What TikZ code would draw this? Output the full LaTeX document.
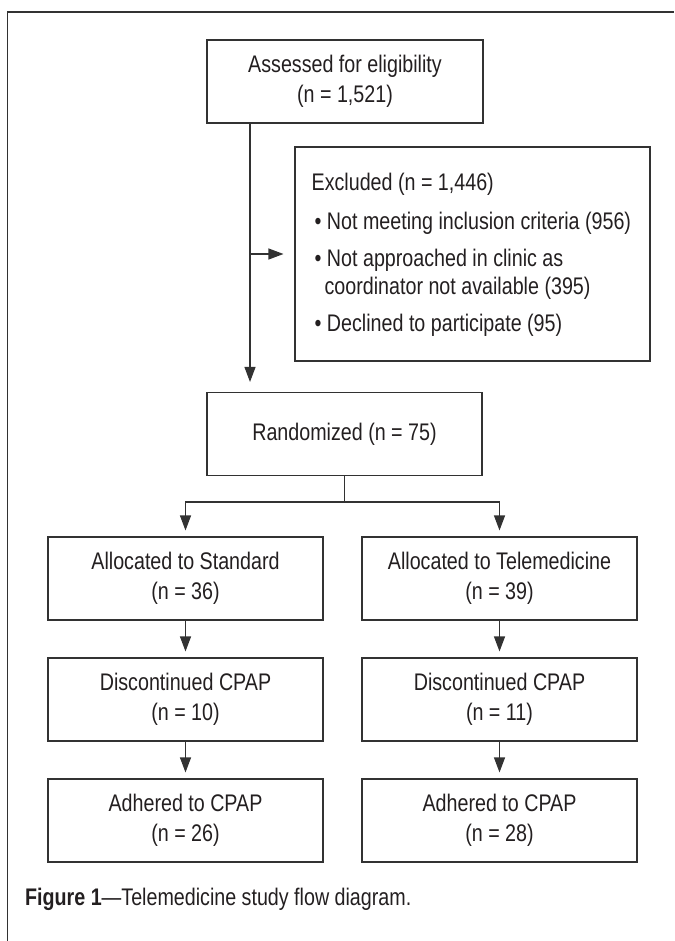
\documentclass[tikz,border=0pt]{standalone}
\usepackage{fontspec}
\setmainfont{Liberation Sans}[FakeStretch=0.82]
\usetikzlibrary{arrows.meta}
\definecolor{ink}{RGB}{35,31,32}
\definecolor{linec}{RGB}{50,50,50}
\begin{document}
\begin{tikzpicture}[x=1pt,y=-1pt,
  box/.style={draw=linec, line width=1.1pt, rectangle, minimum width=275pt,
    minimum height=83pt, inner sep=0pt, align=center, text=ink,
    font=\fontsize{24}{29.5}\selectfont},
  arr/.style={draw=linec, line width=1.1pt, -{Triangle[length=15pt,width=11pt]}},
  ln/.style={draw=linec, line width=1.1pt}]
\useasboundingbox (0,0) rectangle (674,941);
\draw[line width=1.5pt, draw=linec] (7.5,941) -- (7.5,12) -- (674,12);

\node[box, minimum width=276pt] (assess) at (345,81.5) {Assessed for eligibility\\(n = 1,521)};
\node[box, minimum width=355pt, minimum height=214pt] (excl) at (472.5,254) {};
\node[anchor=west, inner sep=0pt, align=left, text=ink,
      font=\fontsize{24}{27.5}\selectfont] (excltext) at ([xshift=17pt,yshift=-1pt]excl.west)
  {Excluded (n = 1,446)\\[11pt]
   \hspace*{3pt}• Not meeting inclusion criteria (956)\\[10pt]
   \hspace*{3pt}• Not approached in clinic as\\
   \hspace*{13pt}coordinator not available (395)\\[10pt]
   \hspace*{3pt}• Declined to participate (95)};
\node[box] (rand) at (344.5,434) {Randomized (n = 75)};
\node[box] (allocS) at (185.5,578.5) {Allocated to Standard\\(n = 36)};
\node[box] (allocT) at (499.5,578.5) {Allocated to Telemedicine\\(n = 39)};
\node[box] (discS) at (185.5,699.5) {Discontinued CPAP\\(n = 10)};
\node[box] (discT) at (499.5,699.5) {Discontinued CPAP\\(n = 11)};
\node[box] (adhS) at (185.5,820.5) {Adhered to CPAP\\(n = 26)};
\node[box] (adhT) at (499.5,820.5) {Adhered to CPAP\\(n = 28)};

\coordinate (vx) at (250,0);
\coordinate (split) at (344.5,502);
\draw[arr, shorten >=10pt] (vx |- assess.south) -- (vx |- rand.north);
\draw[arr, shorten >=11pt] (vx |- excl.west) -- (excl.west);
\draw[ln] (rand.south) -- (split);
\draw[arr, shorten >=6pt] (split) -| (allocS.north);
\draw[arr, shorten >=6pt] (split) -| (allocT.north);
\draw[arr, shorten >=6pt] (allocS.south) -- (discS.north);
\draw[arr, shorten >=6pt] (allocT.south) -- (discT.north);
\draw[arr, shorten >=6pt] (discS.south) -- (adhS.north);
\draw[arr, shorten >=6pt] (discT.south) -- (adhT.north);

\node[anchor=west, inner sep=0pt, text=ink, font=\fontsize{24}{29}\selectfont] (cap) at (25,899)
  {\textbf{Figure 1}—Telemedicine study flow diagram.};
\end{tikzpicture}
\end{document}
